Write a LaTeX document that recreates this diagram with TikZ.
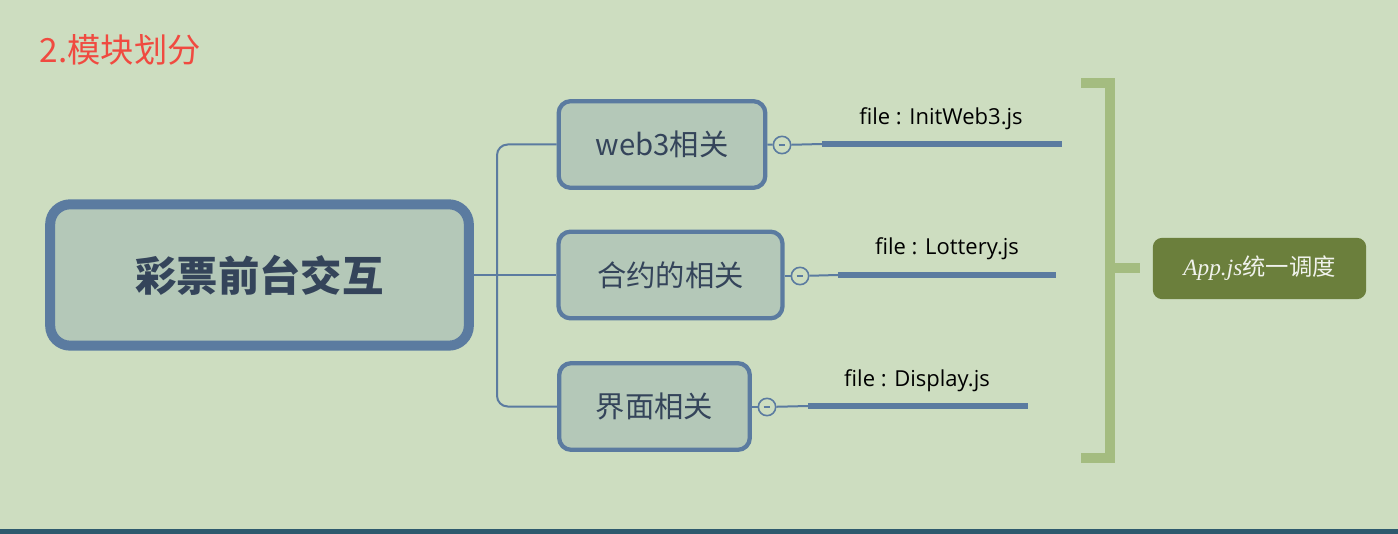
\documentclass[tikz,border=0pt]{standalone}
\usepackage{fontspec}
\setmainfont{Open Sans}
\newfontfamily\cjk{Noto Sans CJK SC}
\newfontfamily\serifit{Liberation Serif}
\definecolor{bg}{HTML}{CDDDC0}
\definecolor{bl}{HTML}{5B7BA0}
\definecolor{nf}{HTML}{B4C8B8}
\definecolor{tx}{HTML}{34445A}
\definecolor{br}{HTML}{A4BC80}
\definecolor{ap}{HTML}{6B7F3C}
\definecolor{ft}{HTML}{2E5A6E}
\definecolor{rd}{HTML}{F04A40}
\begin{document}
\begin{tikzpicture}[x=0.75pt,y=-0.75pt,
  sub/.style={draw=bl,line width=3.2pt,fill=nf,rounded corners=9pt,minimum height=65pt,text=tx,font=\cjk\fontsize{22}{22}\selectfont,inner sep=0pt},
  con/.style={draw=bl,line width=1.5pt},
  mc/.style={circle,draw=bl,line width=1.2pt,minimum size=13pt,inner sep=0pt,fill=bg,
    path picture={\draw[bl,line width=1pt] ([xshift=-2.5pt]path picture bounding box.center) -- ([xshift=2.5pt]path picture bounding box.center);}},
  fl/.style={draw=bl,line width=4pt},
  lab/.style={font=\fontsize{16.5}{16.5}\selectfont,text=black}]
\fill[bg] (0,0) rectangle (1398,534);
\fill[ft] (0,529) rectangle (1398,534);
\useasboundingbox (0,0) rectangle (1398,534);
\node[anchor=west,text=rd,font=\cjk\fontsize{25}{25}\selectfont] (t) at (35,50) {2.模块划分};
\node[draw=bl,line width=7.5pt,fill=nf,rounded corners=15pt,minimum width=314pt,minimum height=106pt,text=tx,font=\cjk\bfseries\fontsize{31}{31}\selectfont] (c) at (259.5,275) {彩票前台交互};
\node[sub,minimum width=155pt] (a) at (662,144.5) {web3相关};
\node[sub,minimum width=168pt] (b) at (670.5,275) {合约的相关};
\node[sub,minimum width=143pt] (d) at (654.5,406.5) {界面相关};
\coordinate (j) at (497,275);
\draw[con] (c.east) -- (j);
\draw[con,rounded corners=8pt] (a.west) -| (j) |- (d.west);
\draw[con] (j) -- (b.west);
\node[mc] (m1) at (782,145) {};
\node[mc] (m2) at (800,276) {};
\node[mc] (m3) at (767,407) {};
\draw[con] (a.east) -- (m1); \draw[con] (b.east |- m2) -- (m2); \draw[con] (d.east |- m3) -- (m3);
\coordinate (s1) at (822,144); \coordinate (e1) at (1062,144);
\coordinate (s2) at (838,275); \coordinate (e2) at (1056,275);
\coordinate (s3) at (808,406); \coordinate (e3) at (1028,406);
\draw[con] (m1) -- (s1); \draw[fl] (s1) -- (e1);
\draw[con] (m2) -- (s2); \draw[fl] (s2) -- (e2);
\draw[con] (m3) -- (s3); \draw[fl] (s3) -- (e3);
\node[lab] (l1) at (941,119) {file : InitWeb3.js};
\node[lab] (l2) at (947,249) {file : Lottery.js};
\node[lab] (l3) at (917,381) {file : Display.js};
\draw[br,line width=7pt] (1081,83) -- (1110,83) -- (1110,458) -- (1081,458);
\draw[br,line width=7pt] (1110,268) -- (1140,268);
\node[fill=ap,rounded corners=7pt,minimum width=160pt,minimum height=46pt,text=white!90!ap,font=\fontsize{17.5}{17.5}\selectfont] (app) at (1259.5,268.5) {{\serifit\itshape App.js}{\cjk 统一调度}};
\end{tikzpicture}
\end{document}
